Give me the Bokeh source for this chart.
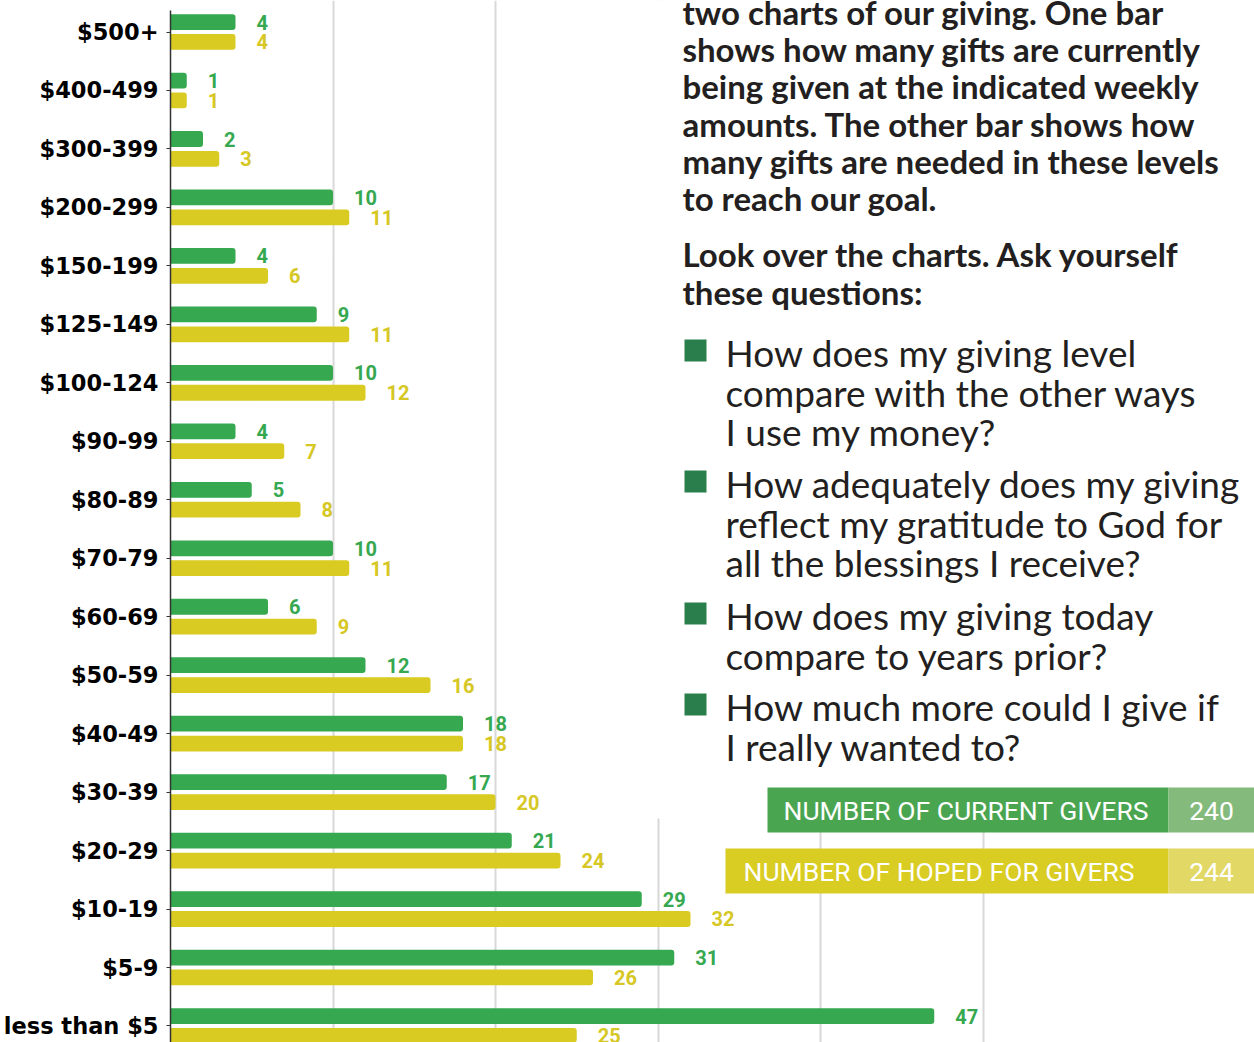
from bokeh.plotting import figure
from bokeh.models import Range1d, FixedTicker, Grid, BoxAnnotation, Label, ColumnDataSource
from bokeh.core.properties import value
from bokeh.embed import file_html
from bokeh.resources import INLINE

# ---------------- data ----------------
categories = ["$500+", "$400-499", "$300-399", "$200-299", "$150-199", "$125-149",
              "$100-124", "$90-99", "$80-89", "$70-79", "$60-69", "$50-59",
              "$40-49", "$30-39", "$20-29", "$10-19", "$5-9", "less than $5"]
current = [4, 1, 2, 10, 4, 9, 10, 4, 5, 10, 6, 12, 18, 17, 21, 29, 31, 47]
hoped = [4, 1, 3, 11, 6, 11, 12, 7, 8, 11, 9, 16, 18, 20, 24, 32, 26, 25]
grid_ticks = [10, 20, 30, 40, 50]
total_current = 240
total_hoped = 244
paragraph = ["two charts of our giving. One bar",
             "shows how many gifts are currently",
             "being given at the indicated weekly",
             "amounts. The other bar shows how",
             "many gifts are needed in these levels",
             "to reach our goal."]
ask = ["Look over the charts. Ask yourself", "these questions:"]
questions = [["How does my giving level", "compare with the other ways", "I use my money?"],
             ["How adequately does my giving", "reflect my gratitude to God for",
              "all the blessings I receive?"],
             ["How does my giving today", "compare to years prior?"],
             ["How much more could I give if", "I really wanted to?"]]

# ---------------- layout ----------------
W, H = 1254, 1042
LEFT, TOP = 170, 0
PX_X, PX_Y = 16.25, 58.47
frame_w, frame_h = W - LEFT, H - TOP
n = len(categories)
pos = [n - 1 - i for i in range(n)]
y_top = (n - 1) + (31.5 - TOP) / PX_Y
y_bot = y_top - frame_h / PX_Y


def X(rx):
    return (rx - LEFT) / PX_X


def Y(ry):
    return y_top - (ry - TOP) / PX_Y


GREEN = "#35a850"
YELLOW = "#d9cb22"
GREEN_TXT = "#35a850"
YELLOW_TXT = "#d6c724"
DARK = "#231f20"
SHIFT = -14

p = figure(width=W, height=H, x_range=Range1d(0, frame_w / PX_X),
           y_range=Range1d(y_bot, y_top), x_axis_location=None,
           y_axis_location="left", toolbar_location=None, output_backend="svg",
           min_border_left=LEFT, min_border_right=0, min_border_top=TOP,
           min_border_bottom=0, outline_line_color=None, title=None)

for g in p.grid:
    g.visible = False
p.add_layout(Grid(dimension=0, ticker=FixedTicker(ticks=grid_ticks),
                  grid_line_color="#d8d8d8", grid_line_width=2,
                  bounds=(y_bot, Y(10))))

off = 0.17
src = ColumnDataSource(dict(
    yc=[v + off for v in pos], yh=[v - off for v in pos],
    cur=current, hop=hoped,
    cur_lbl=[str(v) for v in current], hop_lbl=[str(v) for v in hoped]))

p.hbar(y="yc", left=0, right="cur", height=0.27, source=src, fill_color=GREEN,
       line_color=None, border_radius=(0, 3, 3, 0))
p.hbar(y="yh", left=0, right="hop", height=0.27, source=src, fill_color=YELLOW,
       line_color=None, border_radius=(0, 3, 3, 0))
p.text(x="cur", y="yc", text="cur_lbl", source=src, x_offset=21, text_baseline="middle",
       text_font=value("Roboto"), text_font_style="bold", text_font_size="20px",
       text_color=GREEN_TXT)
p.text(x="hop", y="yh", text="hop_lbl", source=src, x_offset=21, text_baseline="middle",
       text_font=value("Roboto"), text_font_style="bold", text_font_size="20px",
       text_color=YELLOW_TXT)

ax = p.yaxis[0]
ax.ticker = FixedTicker(ticks=pos)
ax.bounds = (y_bot, Y(10))
ax.major_label_overrides = {v: c for v, c in zip(pos, categories)}
ax.minor_tick_line_color = None
ax.major_tick_in = 0
ax.major_tick_out = 4
ax.axis_line_color = "#333333"
ax.axis_line_width = 1.5
ax.major_tick_line_color = "#333333"
ax.major_label_text_font = "DejaVu Sans"
ax.major_label_text_font_style = "bold"
ax.major_label_text_font_size = "22.5px"
ax.major_label_text_color = "#000000"
ax.major_label_standoff = 8

# ---------------- text panel ----------------
p.add_layout(BoxAnnotation(left=X(640), bottom=Y(818), fill_color="white",
                           fill_alpha=1, line_color=None, line_alpha=0))

para_base = [25, 62, 99.5, 137, 174, 211]
for t, b in zip(paragraph, para_base):
    p.add_layout(Label(x=X(682), y=Y(b + SHIFT), text=t, text_font="Lato",
                       text_font_style="bold", text_font_size="33px", text_color=DARK,
                       text_baseline="alphabetic"))
for t, b in zip(ask, [267, 305]):
    p.add_layout(Label(x=X(682), y=Y(b + SHIFT), text=t, text_font="Lato",
                       text_font_style="bold", text_font_size="33px", text_color=DARK,
                       text_baseline="alphabetic"))

q_first = [366, 497, 629, 720]
for q, b0 in zip(questions, q_first):
    p.add_layout(BoxAnnotation(left=X(684), right=X(706), top=Y(b0 - 27), bottom=Y(b0 - 5),
                               fill_color="#2a7e4b", fill_alpha=1, line_color=None,
                               line_alpha=0))
    for k, t in enumerate(q):
        p.add_layout(Label(x=X(725), y=Y(b0 + 39.5 * k + SHIFT), text=t, text_font="Lato",
                           text_font_size="37px", text_color=DARK,
                           text_baseline="alphabetic"))

# ---------------- totals boxes ----------------
p.add_layout(BoxAnnotation(left=X(767), right=X(1168), top=Y(787), bottom=Y(832),
                           fill_color="#4aa551", fill_alpha=1, line_color=None, line_alpha=0))
p.add_layout(BoxAnnotation(left=X(1168), top=Y(787), bottom=Y(832),
                           fill_color="#84ba7b", fill_alpha=1, line_color=None, line_alpha=0))
p.add_layout(BoxAnnotation(left=X(725), right=X(1168), top=Y(848), bottom=Y(893),
                           fill_color="#d9cc22", fill_alpha=1, line_color=None, line_alpha=0))
p.add_layout(BoxAnnotation(left=X(1168), top=Y(848), bottom=Y(893),
                           fill_color="#e2d866", fill_alpha=1, line_color=None, line_alpha=0))
p.add_layout(Label(x=X(783), y=Y(810), text="NUMBER OF CURRENT GIVERS",
                   text_font="Roboto", text_font_size="26.5px", text_color="white",
                   text_baseline="middle"))
p.add_layout(Label(x=X(1211), y=Y(810), text=str(total_current),
                   text_font="Roboto", text_font_size="26.5px", text_color="white",
                   text_baseline="middle", text_align="center"))
p.add_layout(Label(x=X(743), y=Y(871), text="NUMBER OF HOPED FOR GIVERS",
                   text_font="Roboto", text_font_size="26.5px", text_color="white",
                   text_baseline="middle"))
p.add_layout(Label(x=X(1211), y=Y(871), text=str(total_hoped),
                   text_font="Roboto", text_font_size="26.5px", text_color="white",
                   text_baseline="middle", text_align="center"))

open("out.html", "w").write(file_html(p, INLINE))
